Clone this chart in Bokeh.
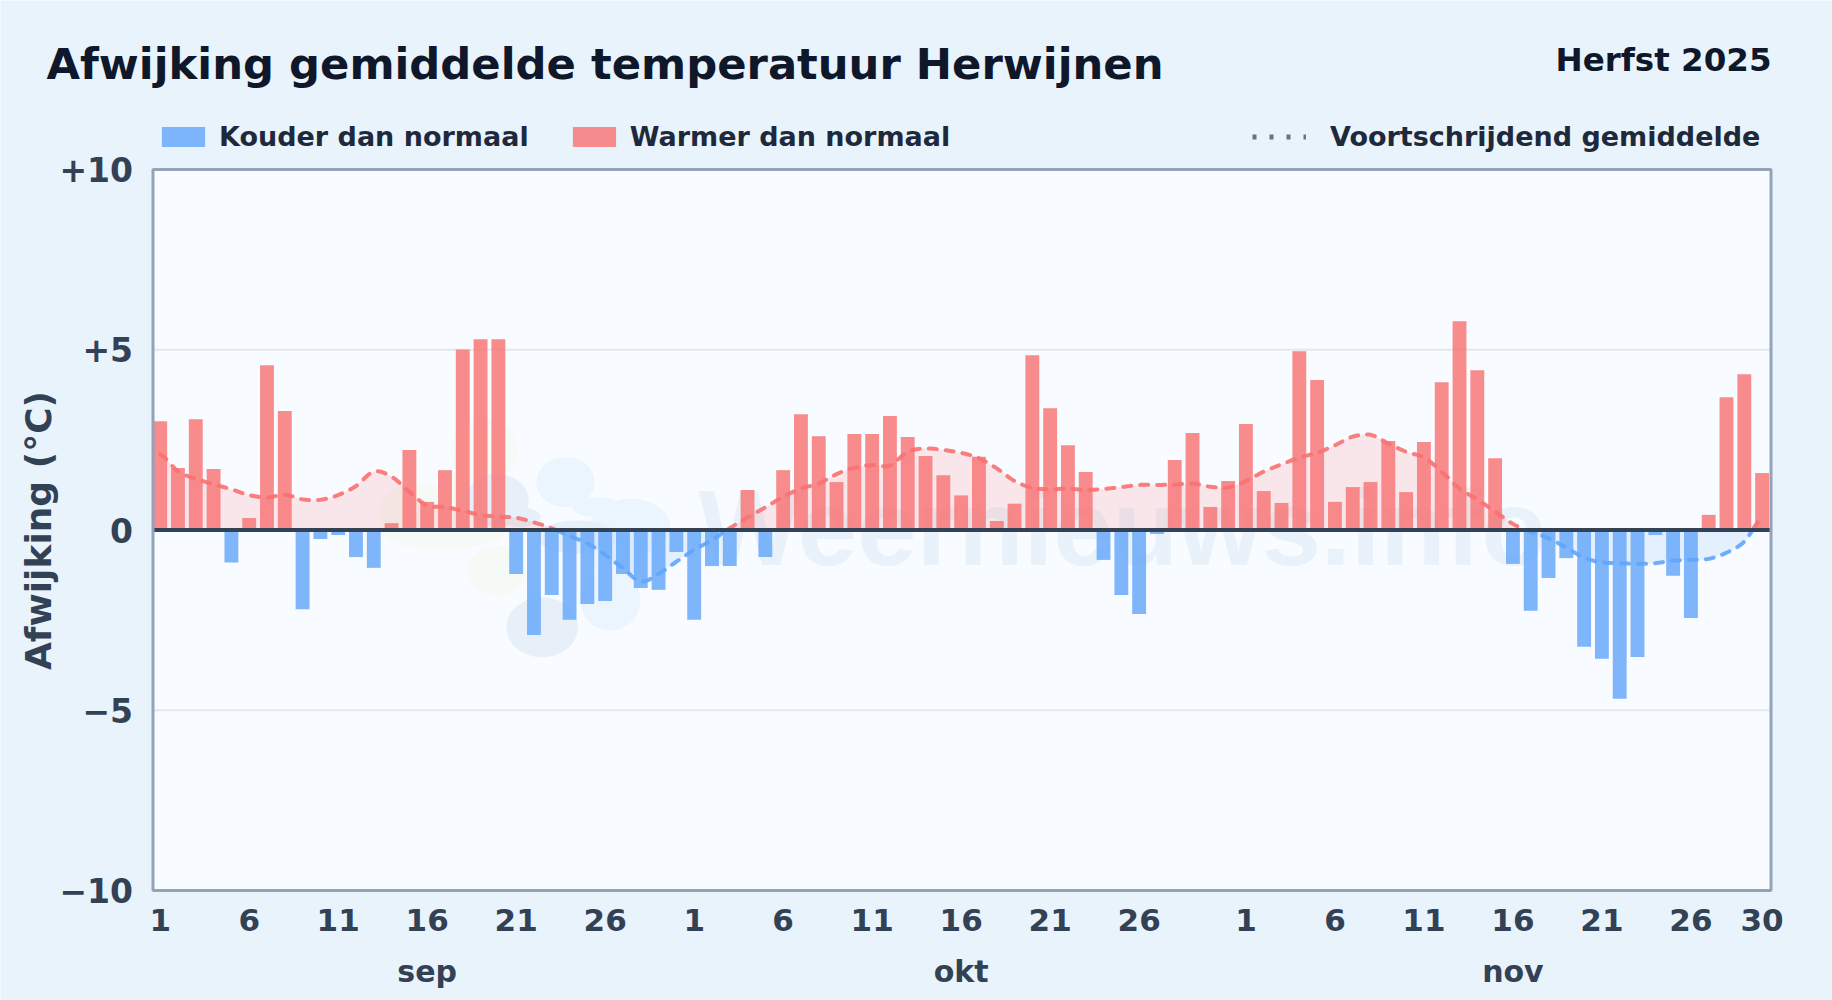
import numpy as np
from bokeh.plotting import figure
from bokeh.models import ColumnDataSource, FixedTicker, Label, Legend, LegendItem, LinearAxis, Range1d
from bokeh.embed import file_html
from bokeh.resources import INLINE

TITLE = "Afwijking gemiddelde temperatuur Herwijnen"
SUBTITLE = "Herfst 2025"
Y_LABEL = "Afwijking (°C)"
MONTHS = ["sep", "okt", "nov"]
MONTH_LENGTHS = [30, 31, 30]
Y_TICKS = [-10, -5, 0, 5, 10]
Y_TICK_LABELS = ["−10", "−5", "0", "+5", "+10"]

sep = [3.02, 1.72, 3.07, 1.69, -0.90, 0.33, 4.57, 3.30, -2.20, -0.25, -0.14, -0.75, -1.05, 0.19, 2.22,
       0.78, 1.66, 5.01, 5.29, 5.29, -1.22, -2.91, -1.80, -2.49, -2.05, -1.97, -1.22, -1.61, -1.66, -0.61]
okt = [-2.49, -1.00, -1.00, 1.11, -0.75, 1.66, 3.21, 2.60, 1.33, 2.66, 2.66, 3.16, 2.58, 2.05, 1.52,
       0.96, 2.03, 0.25, 0.73, 4.85, 3.38, 2.35, 1.61, -0.83, -1.80, -2.33, -0.11, 1.94, 2.69, 0.64, 1.36]
nov = [2.94, 1.08, 0.75, 4.96, 4.16, 0.78, 1.19, 1.33, 2.47, 1.05, 2.44, 4.10, 5.79, 4.43, 1.99,
       -0.94, -2.24, -1.33, -0.78, -3.24, -3.57, -4.68, -3.52, -0.14, -1.27, -2.44, 0.42, 3.68, 4.32, 1.58]
rolling = [2.10, 1.63, 1.42, 1.27, 1.13, 0.97, 0.90, 0.98, 0.85, 0.84, 0.97, 1.22, 1.62, 1.48, 1.06,
           0.68, 0.64, 0.53, 0.42, 0.37, 0.34, 0.21, 0.05, -0.17, -0.37, -0.69, -1.06, -1.43, -1.22, -0.88,
           -0.55, -0.28, 0.05, 0.35, 0.63, 0.92, 1.15, 1.29, 1.55, 1.73, 1.80, 1.79, 2.17, 2.26, 2.22,
           2.14, 1.99, 1.71, 1.36, 1.17, 1.13, 1.15, 1.11, 1.14, 1.19, 1.25, 1.25, 1.26, 1.29, 1.20, 1.18,
           1.36, 1.62, 1.82, 2.01, 2.14, 2.35, 2.59, 2.64, 2.40, 2.17, 2.01, 1.62, 1.15, 0.85,
           0.51, 0.17, -0.05, -0.23, -0.49, -0.77, -0.90, -0.92, -0.94, -0.92, -0.85, -0.83, -0.80, -0.63, -0.32, 0.34]

values = np.array(sep + okt + nov)
days = np.arange(len(values))

# page geometry (px): the frame fills the page, the plot area is a part of it
W, H = 1832, 1000
LEFT, RIGHT, TOP, BOTTOM = 152.5, 1770.5, 169, 890
X_START, X_END = -0.404, 90.5
Y_MIN, Y_MAX = -10, 10

def px_x(v):
    return float(X_START + (v - LEFT) / (RIGHT - LEFT) * (X_END - X_START))

def px_y(v):
    return float(Y_MAX - (v - TOP) / (BOTTOM - TOP) * (Y_MAX - Y_MIN))

def base_y(v, size):
    # a Label's alphabetic baseline sits about 0.35 em under its anchor
    return px_y(v - 0.35 * size)

PAGE = "#e8f3fc"
p = figure(width=W, height=H, output_backend="svg", toolbar_location=None,
           x_range=Range1d(px_x(0), px_x(W)), y_range=Range1d(px_y(H), px_y(0)),
           min_border=0, border_fill_color=PAGE, background_fill_color=PAGE, outline_line_color=None,
           x_axis_type=None, y_axis_type=None)
p.styles = {"position": "absolute", "left": "0px", "top": "0px"}
FONT = "DejaVu Sans"

# plot area
p.quad(left=X_START, right=X_END, bottom=Y_MIN, top=Y_MAX, fill_color="#f8fbff", line_color=None, level="underlay")

# watermark
def blob(color, items):
    a = np.array(items, float)
    xs = [px_x(150 + v / 3) for v in a[:, 0]]
    ys = [px_y(400 + v / 3) for v in a[:, 1]]
    p.ellipse(xs, ys,
              width=a[:, 2] / 3 / (RIGHT - LEFT) * (X_END - X_START),
              height=a[:, 3] / 3 / (BOTTOM - TOP) * (Y_MAX - Y_MIN),
              fill_color=color, line_color=None, level="underlay")

blob("#f5faf6", [(1000, 150, 200, 190), (800, 340, 230, 190), (880, 400, 360, 90), (1040, 510, 180, 150), (950, 260, 120, 120)])
blob("#eaf5fd", [(1245, 245, 175, 150), (1440, 380, 240, 170), (1380, 600, 180, 180), (1340, 320, 150, 60), (1400, 480, 150, 150)])
blob("#e7f0f9", [(1175, 680, 215, 180), (1040, 300, 190, 160), (1280, 410, 240, 100), (1110, 350, 120, 60)])
p.add_layout(Label(x=px_x(698), y=base_y(565, 107), text="Weernieuws.info",
                   text_font="Liberation Sans", text_font_style="bold", text_font_size="107px",
                   text_color="#3b82c4", text_alpha=0.08, text_baseline="alphabetic", level="underlay"))

# axes
y_axis = LinearAxis(ticker=FixedTicker(ticks=Y_TICKS), fixed_location=X_START,
                    major_label_overrides=dict(zip(Y_TICKS, Y_TICK_LABELS)),
                    major_label_text_font=FONT, major_label_text_font_style="bold",
                    major_label_text_font_size="33px", major_label_text_color="#334155", major_label_standoff=14,
                    axis_line_color=None, major_tick_line_color=None, minor_tick_line_color=None)
p.add_layout(y_axis, "left")
p.add_layout(Label(x=px_x(38), y=px_y(530), text=Y_LABEL, angle=90, angle_units="deg", text_font=FONT,
                   text_font_style="bold", text_font_size="36px", text_color="#334155",
                   text_align="center", text_baseline="middle"))

offs = np.cumsum([0] + MONTH_LENGTHS[:-1])
tick_pos, tick_labels = [], []
for o, n in zip(offs, MONTH_LENGTHS):
    for d in range(1, 27, 5):
        tick_pos.append(int(o + d - 1))
        tick_labels.append(str(d))
tick_pos.append(len(values) - 1)
tick_labels.append(str(MONTH_LENGTHS[-1]))
x_axis = LinearAxis(ticker=FixedTicker(ticks=tick_pos), fixed_location=Y_MIN,
                    major_label_overrides=dict(zip(tick_pos, tick_labels)),
                    major_label_text_font=FONT, major_label_text_font_style="bold",
                    major_label_text_font_size="31px", major_label_text_color="#334155", major_label_standoff=12,
                    axis_line_color=None, major_tick_line_color=None, minor_tick_line_color=None)
p.add_layout(x_axis, "below")
month_pos = [int(o + 15) for o in offs]
month_axis = LinearAxis(ticker=FixedTicker(ticks=month_pos), fixed_location=Y_MIN,
                        major_label_overrides=dict(zip(month_pos, MONTHS)),
                        major_label_text_font=FONT, major_label_text_font_style="bold",
                        major_label_text_font_size="30px", major_label_text_color="#334155", major_label_standoff=57,
                        axis_line_color=None, major_tick_line_color=None, minor_tick_line_color=None)
p.add_layout(month_axis, "below")

for v in (5, -5):
    p.segment(X_START, v, X_END, v, line_color="#e2e8ec", line_width=2, level="underlay")

# rolling mean: smooth the drawn curve through the daily values
r = np.array(rolling)
pts = np.r_[r[0], r, r[-1]]
steps = 12
t = np.linspace(0, 1, steps, endpoint=False)
fine_x, fine_y = [], []
for i in range(len(r) - 1):
    p0, p1, p2, p3 = pts[i:i + 4]
    fine_x.extend(i + t)
    fine_y.extend(0.5 * (2 * p1 + (p2 - p0) * t + (2 * p0 - 5 * p1 + 4 * p2 - p3) * t**2 + (3 * p1 - p0 - 3 * p2 + p3) * t**3))
fine_x = np.array(fine_x + [len(r) - 1])
fine_y = np.array(fine_y + [r[-1]])
p.varea(fine_x, np.zeros_like(fine_y), np.maximum(fine_y, 0), fill_color="#f87171", fill_alpha=0.15)
p.varea(fine_x, np.minimum(fine_y, 0), np.zeros_like(fine_y), fill_color="#60a5fa", fill_alpha=0.12)

# bars
cold = values < 0
src_cold = ColumnDataSource(dict(x=days[cold], top=values[cold]))
src_warm = ColumnDataSource(dict(x=days[~cold], top=values[~cold]))
bars_cold = p.vbar(x="x", bottom=0, top="top", width=0.78, source=src_cold, fill_color="#60a5fa", fill_alpha=0.8, line_color=None)
bars_warm = p.vbar(x="x", bottom=0, top="top", width=0.78, source=src_warm, fill_color="#f87171", fill_alpha=0.8, line_color=None)

line_kw = dict(line_width=4, line_dash="8 9", line_cap="round", line_join="round", line_alpha=0.9)
p.line(fine_x, np.where(fine_y >= 0, fine_y, np.nan), line_color="#f87171", **line_kw)
p.line(fine_x, np.where(fine_y <= 0, fine_y, np.nan), line_color="#60a5fa", **line_kw)

p.segment(X_START, 0, X_END, 0, line_color="#334155", line_width=4)
p.quad(left=X_START, right=X_END, bottom=Y_MIN, top=Y_MAX, fill_color=None, line_color="#94a3b8", line_width=3)

# header
p.add_layout(Label(x=px_x(46), y=base_y(79, 43.3), text=TITLE, text_font=FONT,
                   text_font_style="bold", text_font_size="43.3px", text_color="#0f172a", text_baseline="alphabetic"))
p.add_layout(Label(x=px_x(1771), y=base_y(71, 32.5), text=SUBTITLE, text_font=FONT,
                   text_font_style="bold", text_font_size="32.5px", text_color="#0f172a", text_align="right",
                   text_baseline="alphabetic"))

# legends
dots = p.line([-500, -490], [-500, -500], line_color="#64748b", line_width=5, line_dash="4 13")
leg_kw = dict(background_fill_alpha=0, border_line_color=None, padding=0, margin=0, label_text_font=FONT,
              label_text_font_style="bold", label_text_font_size="27px", label_text_color="#1e293b",
              orientation="horizontal", glyph_height=25, label_height=30, label_standoff=9)
p.add_layout(Legend(items=[LegendItem(label="Kouder dan normaal", renderers=[bars_cold]),
                           LegendItem(label="Warmer dan normaal", renderers=[bars_warm])],
                    location=(156, 848), glyph_width=54, spacing=38, **leg_kw))
p.add_layout(Legend(items=[LegendItem(label="Voortschrijdend gemiddelde", renderers=[dots])],
                    location=(1252, 848), glyph_width=54, spacing=0, **{**leg_kw, "label_standoff": 24}))

open("out.html", "w").write(file_html(p, INLINE))
